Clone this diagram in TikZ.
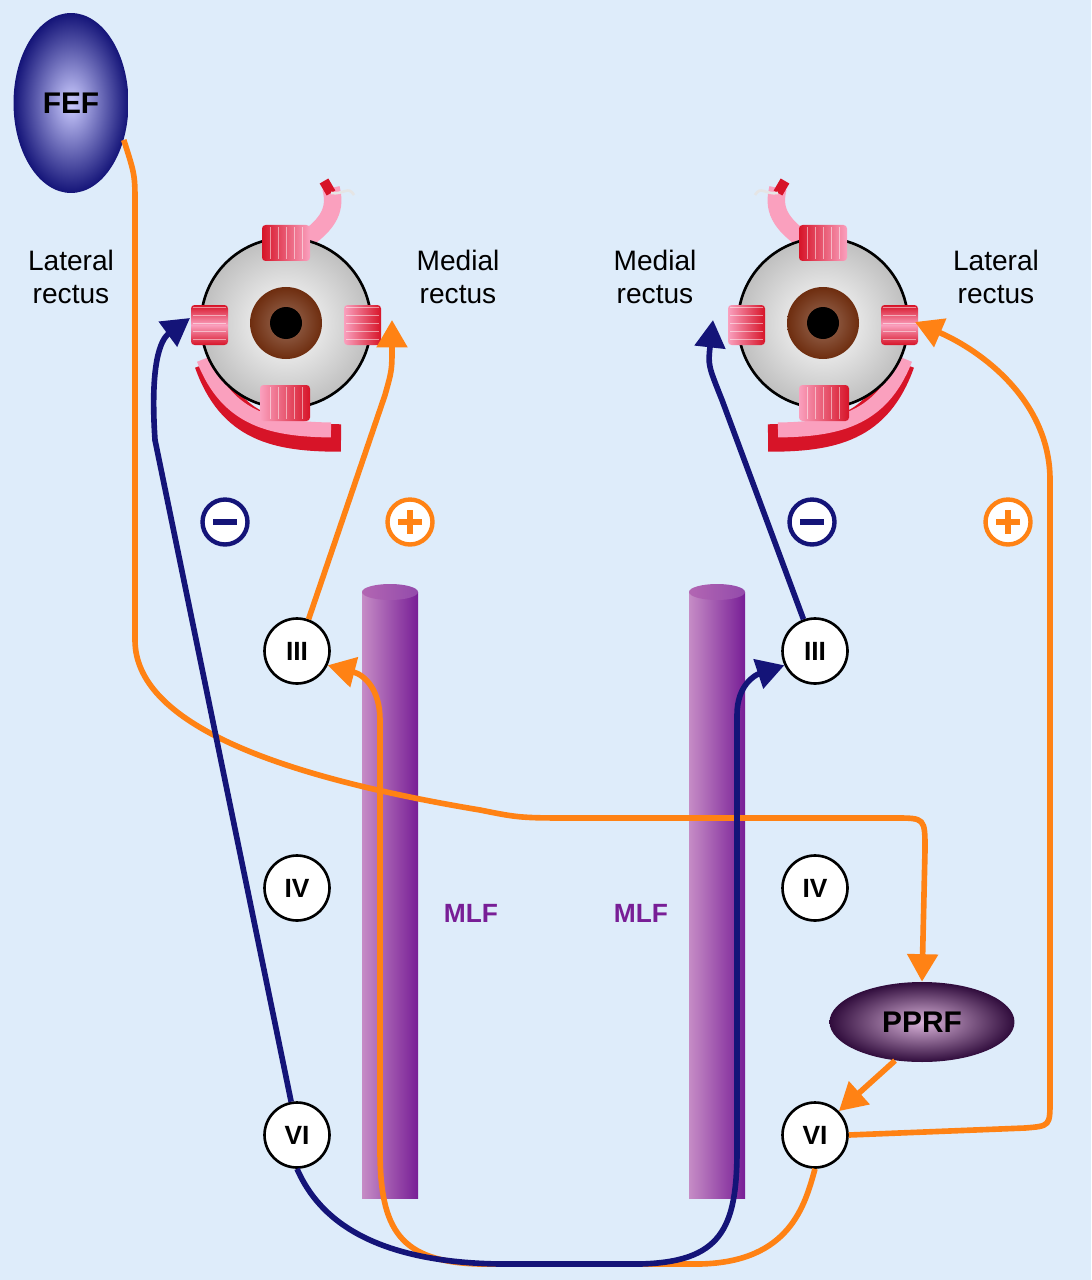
\documentclass[tikz,border=0pt]{standalone}
\usepackage{fontspec}
\setmainfont{Liberation Sans}
\usetikzlibrary{arrows.meta, shapes.geometric, positioning}
\definecolor{bgBlue}{RGB}{222,236,250}
\definecolor{navyPath}{RGB}{20,20,120}
\definecolor{orangePath}{RGB}{255,130,20}
\definecolor{mlfPurple}{RGB}{120,30,150}
\definecolor{musRed}{RGB}{215,20,40}
\definecolor{musPink}{RGB}{250,160,190}
\definecolor{irisBrown}{RGB}{110,45,15}

\tikzset{
  nerve/.style={circle, draw=black, line width=1.5pt, fill=white, minimum size=1.3cm,
    inner sep=0pt, font=\fontsize{15}{15}\selectfont\bfseries},
  sign/.style={circle, draw=#1, line width=2.5pt, fill=white, minimum size=0.9cm, inner sep=0pt},
  tract/.style={line width=3.2pt, draw=#1, -{Triangle[length=0.55cm, width=0.6cm]}},
  lbl/.style={align=center, font=\fontsize{16}{19}\selectfont},
  muscle/.style={left color=musRed, right color=musPink, rounded corners=2pt},
}

% eye with its four recti; #1 centre, #2 mirror (1 or -1)
\newcommand{\eyepic}[2]{%
  \begin{scope}[shift={#1}, xscale=#2]
    % inferior oblique band
    \draw[line width=0.55cm, musRed] (-78,40) .. controls (-55,105) and (-10,115) .. (55,115);
    \draw[line width=0.3cm, musPink] (-82,36) .. controls (-58,98) and (-12,106) .. (45,107);
    % superior oblique tendon
    \draw[line width=0.35cm, musPink] (15,-80) .. controls (45,-100) and (50,-115) .. (45,-135);
    \draw[line width=0.2cm, musRed] (45,-130) -- (38,-142);
    \draw[line width=1.5pt, white!80!gray] (45,-130) .. controls (58,-128) and (62,-138) .. (68,-128);
    % globe
    \shade[inner color=white, outer color=black!25] (0,0) circle[radius=85];
    \draw[black, line width=1.5pt] (0,0) circle[radius=85];
    \shade[inner color=irisBrown!70, outer color=irisBrown] (0,0) circle[radius=36];
    \fill[black] (0,0) circle[radius=16];
    % recti
    \shade[muscle] (-24,-98) rectangle (24,-62);
    \shade[muscle, left color=musPink, right color=musRed] (-26,98) rectangle (24,62);
    \shade[muscle, top color=musRed, bottom color=musRed, middle color=musPink] (-95,-18) rectangle (-58,22);
    \shade[muscle, left color=musPink, right color=musRed] (58,-18) rectangle (95,22);
    \foreach \s in {-16,-8,...,16} {
      \draw[white, opacity=0.5] (\s,-96) -- (\s,-64);
      \draw[white, opacity=0.5] (\s,96) -- (\s,64);
      \draw[white, opacity=0.5] (-93,\s) -- (-60,\s);
      \draw[white, opacity=0.5] (93,\s) -- (60,\s);
    }
  \end{scope}}

\begin{document}
\begin{tikzpicture}[x=0.02cm, y=-0.02cm]
  \fill[bgBlue] (0,0) rectangle (1091,1280);
  \useasboundingbox (0,0) rectangle (1091,1280);

  % eyes
  \eyepic{(286,323)}{1}
  \eyepic{(823,323)}{-1}
  \coordinate (lLR) at (190,318);
  \coordinate (lMR) at (392,320);
  \coordinate (rMR) at (713,320);
  \coordinate (rLR) at (915,322);

  \node[lbl] (lLat) at (71,277) {Lateral\\rectus};
  \node[lbl] (lMed) at (458,277) {Medial\\rectus};
  \node[lbl] (rMed) at (655,277) {Medial\\rectus};
  \node[lbl] (rLat) at (996,277) {Lateral\\rectus};

  % MLF columns
  \foreach \x/\nm in {390/lmlf, 717/rmlf} {
    \shade[left color=violet!45!white, right color=mlfPurple] (\x-28,592) rectangle (\x+28,1198);
    \shade[left color=violet!60!white, right color=mlfPurple!80] (\x,592) ellipse[x radius=28, y radius=8];
  }
  \node[text=mlfPurple, font=\fontsize{15}{15}\selectfont\bfseries] (lmlfTxt) at (471,913) {MLF};
  \node[text=mlfPurple, font=\fontsize{15}{15}\selectfont\bfseries] (rmlfTxt) at (641,913) {MLF};

  % cortical and brainstem centres
  \node[ellipse, minimum width=2.3cm, minimum height=3.6cm, inner color=blue!20!white,
    outer color=navyPath, font=\fontsize{17}{17}\selectfont\bfseries] (fef) at (71,103) {FEF};
  \node[ellipse, minimum width=3.7cm, minimum height=1.6cm, inner color=violet!30!white,
    outer color=black!60!mlfPurple, font=\fontsize{17}{17}\selectfont\bfseries] (pprf) at (922,1022) {PPRF};

  % cranial nerve nuclei
  \node[nerve] (lIII) at (297,651) {III};
  \node[nerve] (lIV) at (297,888) {IV};
  \node[nerve] (lVI) at (297,1135) {VI};
  \node[nerve] (rIII) at (815,651) {III};
  \node[nerve] (rIV) at (815,888) {IV};
  \node[nerve] (rVI) at (815,1135) {VI};

  % signs
  \node[sign=navyPath] (lMinus) at (225,522) {};
  \fill[navyPath] ([xshift=-7pt]lMinus.center) ++(0,-3) rectangle ++(14pt,6);
  \node[sign=orangePath] (lPlus) at (410,522) {};
  \fill[orangePath] ([xshift=-7pt]lPlus.center) ++(0,-3) rectangle ++(14pt,6);
  \fill[orangePath] ([yshift=7pt]lPlus.center) ++(-3,0) rectangle ++(6,-14pt);
  \node[sign=navyPath] (rMinus) at (812,522) {};
  \fill[navyPath] ([xshift=-7pt]rMinus.center) ++(0,-3) rectangle ++(14pt,6);
  \node[sign=orangePath] (rPlus) at (1008,522) {};
  \fill[orangePath] ([xshift=-7pt]rPlus.center) ++(0,-3) rectangle ++(14pt,6);
  \fill[orangePath] ([yshift=7pt]rPlus.center) ++(-3,0) rectangle ++(6,-14pt);

  % pathways
  \draw[tract=orangePath] (fef.-35) .. controls (135,175) .. (135,205) -- (135,640)
    .. controls (135,730) and (300,780) .. (480,810) .. controls (520,818) .. (580,818)
    -- (895,818) .. controls (925,818) .. (925,850) -- (pprf.north);
  \draw[tract=orangePath] (pprf.235) -- (rVI.45);
  \draw[tract=orangePath] (rVI.east) -- (1025,1128) .. controls (1050,1126) .. (1050,1100)
    -- (1050,480) .. controls (1050,400) and (980,350) .. (rLR);
  \draw[tract=orangePath] (rVI.south) .. controls (805,1205) and (790,1262) .. (700,1264)
    -- (480,1264) .. controls (400,1262) and (380,1230) .. (380,1150) -- (380,720)
    .. controls (380,690) and (365,675) .. (lIII.-25);
  \draw[tract=orangePath] (lIII.70) -- (385,395) .. controls (392,370) .. (lMR);
  \draw[tract=navyPath] (lVI.100) -- (155,440) .. controls (150,365) and (160,340) .. (lLR);
  \draw[tract=navyPath] (lVI.south) .. controls (315,1210) and (360,1262) .. (500,1264)
    -- (640,1264) .. controls (720,1262) and (737,1230) .. (737,1150) -- (737,715)
    .. controls (737,685) and (755,675) .. (rIII.205);
  \draw[tract=navyPath] (rIII.110) -- (722,400) .. controls (708,365) .. (rMR);
\end{tikzpicture}
\end{document}
